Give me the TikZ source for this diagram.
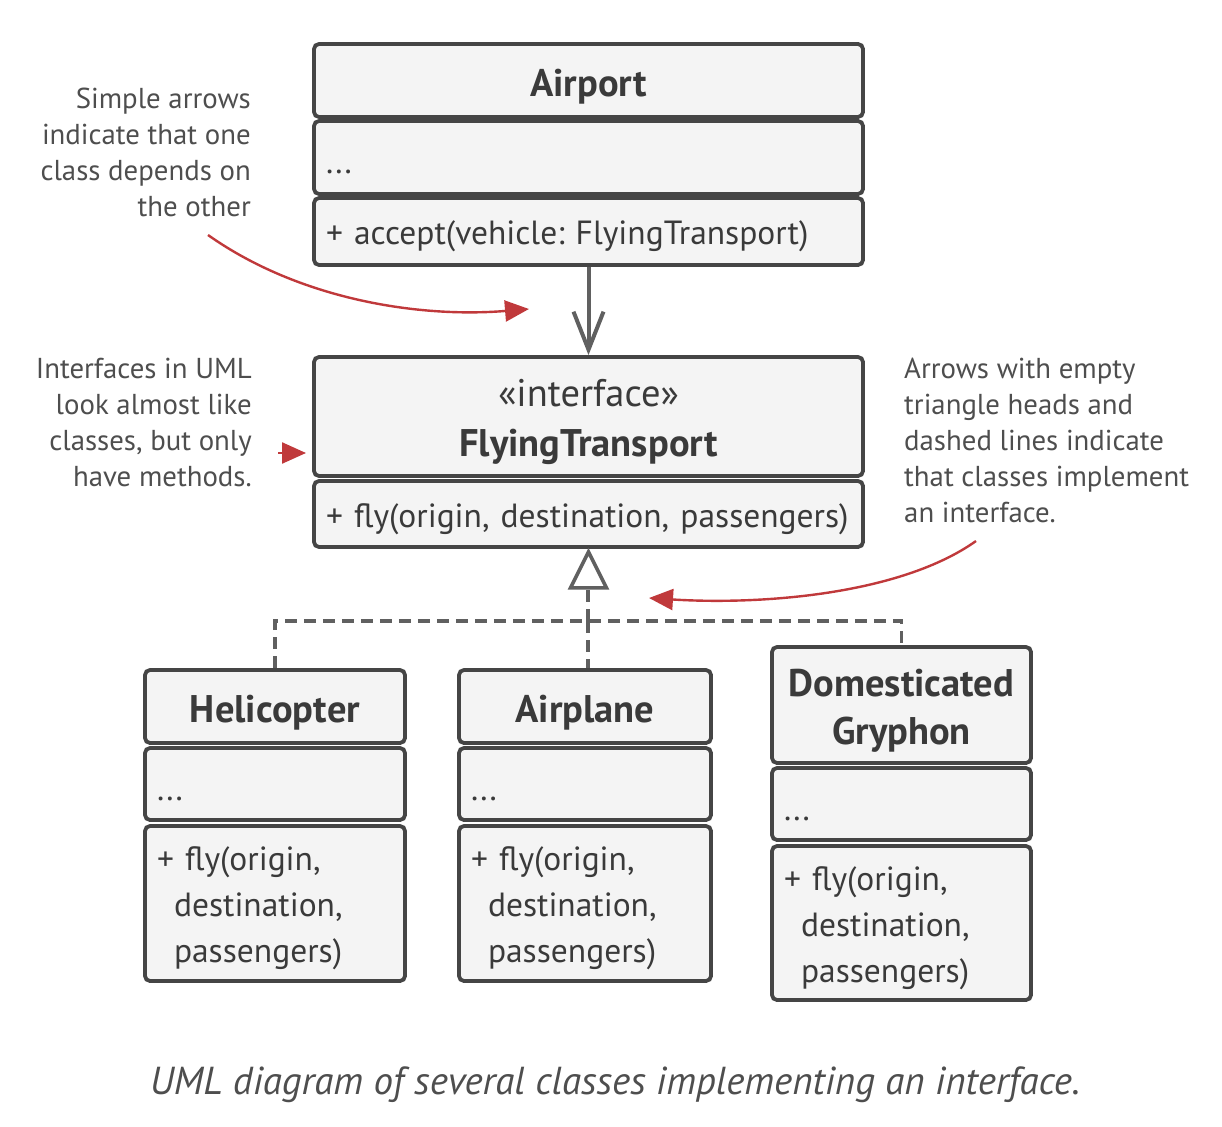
\documentclass[tikz,border=0pt]{standalone}
\usepackage{fontspec}
\setmainfont{PT Sans}
\usetikzlibrary{arrows.meta}
\definecolor{bordc}{HTML}{454545}
\definecolor{boxf}{HTML}{F4F4F4}
\definecolor{txtc}{HTML}{3A3A3A}
\definecolor{notec}{HTML}{4E4E4E}
\definecolor{linec}{HTML}{606060}
\definecolor{redc}{HTML}{C0393B}
\newcommand{\hfont}{\fontsize{38.5}{48}\selectfont}
\newcommand{\bst}{\rule{0pt}{34pt}}
\newcommand{\hst}{\rule{0pt}{39pt}}
\newcommand{\dotsline}{\raisebox{-16pt}[0pt][0pt]{...}}
\tikzset{
  comp/.style={draw=bordc, line width=3.8pt, fill=boxf, rounded corners=5pt,
    inner sep=0pt, text=txtc, font=\fontsize{33.5}{46}\selectfont\frenchspacing},
  ctext/.style={align=center},
  ltext/.style={text width=#1, align=left},
  note/.style={inner sep=0pt, text=notec, font=\fontsize{28.8}{36}\selectfont\frenchspacing},
  redarrow/.style={draw=redc, line width=2.4pt, -{Triangle[length=24pt,width=21pt]}},
  dep/.style={draw=linec, line width=4pt, -{Straight Barb[length=38pt,width=30pt]}},
  impl/.style={draw=linec, line width=3.4pt, dash pattern=on 12pt off 7pt},
}
\begin{document}
\begin{tikzpicture}[x=1pt,y=-1pt]
\useasboundingbox (0,0) rectangle (1222,1126);
% Airport
\node[comp, minimum width=549pt, minimum height=73pt, ctext, font=\hfont] (a1) at (588.5,80.5) {\hst\bfseries Airport};
\node[comp, minimum width=549pt, minimum height=73pt, ltext=525pt] (a2) at (588.5,157.5) {\dotsline};
\node[comp, minimum width=549pt, minimum height=67pt, ltext=525pt] (a3) at (588.5,231.5) {\bst+ accept(vehicle: FlyingTransport)};
% FlyingTransport
\node[comp, minimum width=549pt, minimum height=119pt, align=center, font=\fontsize{38.5}{50}\selectfont] (f1) at (588.5,416.5) {\hst«interface»\\ \bfseries FlyingTransport};
\node[comp, minimum width=549pt, minimum height=66pt, ltext=525pt] (f2) at (588.5,514) {\bst+ fly(origin, destination, passengers)};
% Helicopter
\node[comp, minimum width=260pt, minimum height=73pt, ctext, font=\hfont] (h1) at (275,706.5) {\hst\bfseries Helicopter};
\node[comp, minimum width=260pt, minimum height=72pt, ltext=236pt] (h2) at (275,784) {\dotsline};
\node[comp, minimum width=260pt, minimum height=155pt, ltext=236pt] (h3) at (275,903.5) {\bst+ fly(origin,\\\hspace*{17pt}destination,\\\hspace*{17pt}passengers)};
% Airplane
\node[comp, minimum width=252pt, minimum height=73pt, ctext, font=\hfont] (p1) at (585,706.5) {\hst\bfseries Airplane};
\node[comp, minimum width=252pt, minimum height=72pt, ltext=228pt] (p2) at (585,784) {\dotsline};
\node[comp, minimum width=252pt, minimum height=155pt, ltext=228pt] (p3) at (585,903.5) {\bst+ fly(origin,\\\hspace*{17pt}destination,\\\hspace*{17pt}passengers)};
% Gryphon
\node[comp, minimum width=259pt, minimum height=116pt, align=center, font=\hfont] (g1) at (901.5,705) {\hst\bfseries Domesticated\\\bfseries Gryphon};
\node[comp, minimum width=259pt, minimum height=72pt, ltext=235pt] (g2) at (901.5,804) {\dotsline};
\node[comp, minimum width=259pt, minimum height=154pt, ltext=235pt] (g3) at (901.5,923) {\bst+ fly(origin,\\\hspace*{17pt}destination,\\\hspace*{17pt}passengers)};
% dependency
\draw[dep] (a3.south) -- (f1.north);
% implementation
\coordinate (tb) at (588,590);
\coordinate (jn) at (588,621);
\draw[impl] (tb) -- (jn);
\draw[impl] (h1.north) |- (jn) -| (g1.north);
\draw[impl] (jn) -- (p1.north -| jn);
\draw[draw=linec, line width=3.6pt, fill=white, line join=miter] (f2.south) ++(0,3) -- ++(-18,36) -- ++(36,0) -- cycle;
% notes
\node[note, anchor=east, align=right] (n1) at (251,152) {Simple arrows\\indicate that one\\class depends on\\the other};
\node[note, anchor=east, align=right] (n2) at (252,422) {Interfaces in UML\\look almost like\\classes, but only\\have methods.};
\node[note, anchor=west, align=left] (n3) at (904,440) {Arrows with empty\\triangle heads and\\dashed lines indicate\\that classes implement\\an interface.};
% red arrows
\coordinate (r1s) at (208,235);
\coordinate (r1e) at (529,309);
\draw[redarrow] (r1s) .. controls (300,300) and (420,318) .. (r1e);
\coordinate (r2s) at (278,453);
\coordinate (r2e) at (306,453);
\draw[redarrow] (r2s) -- (r2e);
\coordinate (r3s) at (976,541);
\coordinate (r3e) at (649,598);
\draw[redarrow] (r3s) .. controls (900,595) and (760,605) .. (r3e);
% caption
\node[inner sep=0pt, text=notec, font=\fontsize{39}{44}\selectfont\itshape] (cap) at (615,1085) {UML diagram of several classes implementing an interface.};
\end{tikzpicture}
\end{document}
